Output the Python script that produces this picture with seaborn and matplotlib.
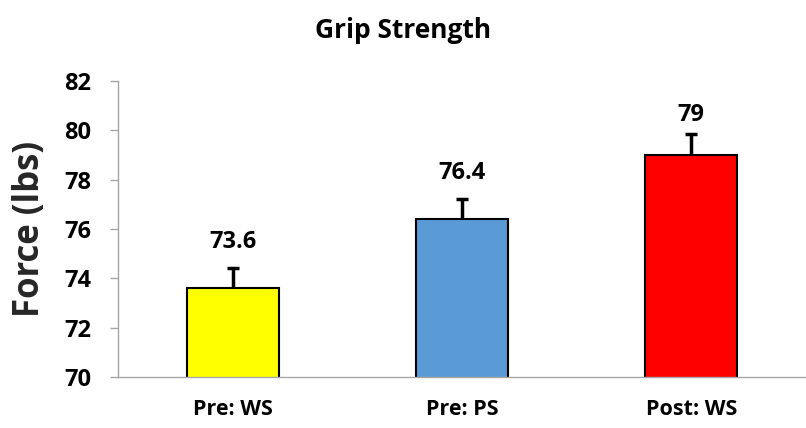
import matplotlib
matplotlib.use("Agg")
import matplotlib.pyplot as plt
import seaborn as sns
import pandas as pd
import numpy as np

categories = ["Pre: WS", "Pre: PS", "Post: WS"]
values = [73.6, 76.4, 79.0]
errors = [0.8, 0.8, 0.85]
value_labels = ["73.6", "76.4", "79"]
colors = ["#FFFF00", "#5B9BD5", "#FF0000"]
yticks = [70, 72, 74, 76, 78, 80, 82]

# label offsets above error-bar tops (points)
label_offsets = [14.5, 14.5, 9.5]

sns.set_theme(style="white")
plt.rcParams["font.family"] = ["Open Sans", "DejaVu Sans"]

df = pd.DataFrame({"cat": categories, "val": values})

fig = plt.figure(figsize=(8.06, 4.28), dpi=100)
ax = fig.add_axes([118/806, 1 - 377/428, 688/806, 296/428])

sns.barplot(data=df, x="cat", y="val", hue="cat", palette=colors, order=categories,
            hue_order=categories, errorbar=None, width=0.40, edgecolor="black",
            linewidth=1.5, saturation=1, legend=False, ax=ax, zorder=2)

xs = list(range(len(categories)))
eb = ax.errorbar(xs, values, yerr=[[0]*len(errors), errors], fmt="none", ecolor="black",
                 elinewidth=2.5, capsize=4.5, capthick=2.5, zorder=3)
# hide the zero-length lower caps
for cl in eb[1]:
    if np.allclose(np.asarray(cl.get_ydata(), dtype=float), values):
        cl.set_visible(False)

for x, v, e, lab, off in zip(xs, values, errors, value_labels, label_offsets):
    ax.annotate(lab, xy=(x, v + e), xytext=(0, off), textcoords="offset points",
                ha="center", va="baseline", fontsize=17, fontweight="bold", color="black")

ax.set_ylim(70, 82)
ax.set_xlim(-0.5, 2.5)
ax.set_yticks(yticks)
ax.set_yticklabels([str(t) for t in yticks], fontsize=17, fontweight="bold")
ax.set_xticks(xs)
ax.set_xticklabels(categories, fontsize=15.5, fontweight="bold")
ax.set_xlabel("")
ax.set_ylabel("Force (lbs)", fontsize=25, fontweight="bold")
ax.yaxis.set_label_coords(-0.102, 0.5)

for s in ["top", "right"]:
    ax.spines[s].set_visible(False)
for s in ["left", "bottom"]:
    ax.spines[s].set_color("#A6A6A6")
    ax.spines[s].set_linewidth(1.0)

ax.tick_params(axis="y", which="both", left=True, length=6, width=1, color="#A6A6A6",
               direction="out", pad=13, labelcolor="black")
ax.tick_params(axis="x", which="both", bottom=False, length=0, pad=16, labelcolor="black")

fig.text(0.5, 1 - 30/428, "Grip Strength", ha="center", va="center",
         fontsize=19, fontweight="bold", color="black")

fig.savefig("out.png", dpi=100, facecolor="white")
